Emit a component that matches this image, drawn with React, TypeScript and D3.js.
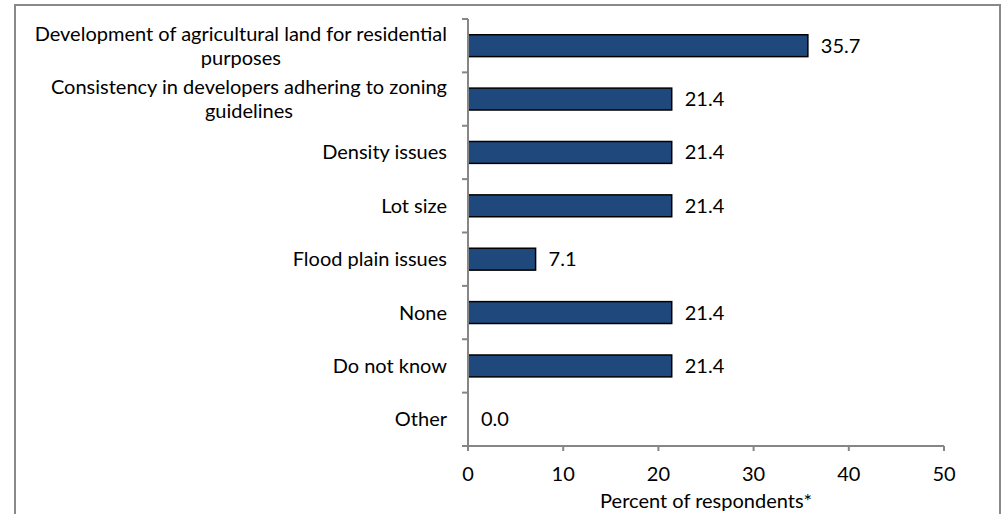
import React, { useEffect, useRef } from "react";
import * as d3 from "d3";

const categories: string[][] = [
  ["Development of agricultural land for residential", "purposes"],
  ["Consistency in developers adhering to zoning", "guidelines"],
  ["Density issues"],
  ["Lot size"],
  ["Flood plain issues"],
  ["None"],
  ["Do not know"],
  ["Other"],
];
const values: number[] = [35.7, 21.4, 21.4, 21.4, 7.1, 21.4, 21.4, 0.0];
const xTicks: number[] = [0, 10, 20, 30, 40, 50];
const xTitle = "Percent of respondents*";

const W = 1005;
const H = 514;
const FONT = "Lato, 'Open Sans', sans-serif";
const FS = 20;

export default function App() {
  const ref = useRef<SVGSVGElement>(null);

  useEffect(() => {
    const svg = d3.select(ref.current);
    svg.selectAll("*").remove();

    const left = 468, right = 944, top = 19, bottom = 446;
    const x = d3.scaleLinear().domain([0, 50]).range([left, right]);
    const idx = categories.map((_, i) => String(i));
    const y = d3.scaleBand().domain(idx).range([top, bottom]).paddingInner(0.59).paddingOuter(0.295);

    // frame
    svg.append("rect").attr("x", 15).attr("y", 5).attr("width", 985).attr("height", 520)
      .attr("fill", "white").attr("stroke", "#898989").attr("stroke-width", 2);

    // bars
    svg.selectAll("rect.bar").data(values).enter().append("rect")
      .attr("class", "bar")
      .attr("x", x(0))
      .attr("y", (_, i) => y(String(i))!)
      .attr("width", d => x(d) - x(0))
      .attr("height", y.bandwidth())
      .attr("fill", "#1F497D")
      .attr("stroke", d => (d > 0 ? "#000" : "none"))
      .attr("stroke-width", 1.5);

    // value labels
    svg.selectAll("text.val").data(values).enter().append("text")
      .attr("x", d => x(d) + 13)
      .attr("y", (_, i) => y(String(i))! + y.bandwidth() / 2)
      .attr("dy", "0.35em")
      .attr("font-family", FONT).attr("font-size", FS).attr("fill", "#000")
      .text(d => d.toFixed(1));

    // y axis
    const axColor = "#868686";
    svg.append("line").attr("x1", left).attr("x2", left).attr("y1", top).attr("y2", bottom)
      .attr("stroke", axColor).attr("stroke-width", 2);
    const bandStep = (bottom - top) / categories.length;
    d3.range(categories.length + 1).forEach(i => {
      const yy = top + i * bandStep;
      svg.append("line").attr("x1", left - 6).attr("x2", left).attr("y1", yy).attr("y2", yy)
        .attr("stroke", axColor).attr("stroke-width", 2);
    });

    // category labels
    categories.forEach((lines, i) => {
      const cy = y(String(i))! + y.bandwidth() / 2;
      const t = svg.append("text").attr("font-family", FONT).attr("font-size", FS)
        .attr("fill", "#000").attr("text-anchor", lines.length > 1 ? "middle" : "end");
      const lh = 24;
      lines.forEach((ln, j) => {
        const yy = cy + (j - (lines.length - 1) / 2) * lh;
        t.append("tspan").attr("x", 447).attr("y", yy).attr("dy", "0.35em").text(ln);
      });
      if (lines.length > 1) {
        const spans = t.selectAll("tspan").nodes() as SVGTSpanElement[];
        const w0 = spans[0].getComputedTextLength();
        const cx = 447 - w0 / 2;
        spans.forEach(s => s.setAttribute("x", String(cx)));
      }
    });

    // x axis
    svg.append("line").attr("x1", left).attr("x2", right).attr("y1", bottom).attr("y2", bottom)
      .attr("stroke", axColor).attr("stroke-width", 2);
    xTicks.forEach(v => {
      svg.append("line").attr("x1", x(v)).attr("x2", x(v)).attr("y1", bottom).attr("y2", bottom + 5)
        .attr("stroke", axColor).attr("stroke-width", 2);
      svg.append("text").attr("x", x(v)).attr("y", 474).attr("dy", "0.35em")
        .attr("text-anchor", "middle").attr("font-family", FONT).attr("font-size", FS).attr("fill", "#000")
        .text(String(v));
    });
    svg.append("text").attr("x", (left + right) / 2).attr("y", 501).attr("dy", "0.35em")
      .attr("text-anchor", "middle").attr("font-family", FONT).attr("font-size", FS).attr("fill", "#000")
      .text(xTitle);
  }, []);

  return (
    <div style={{ position: "absolute", left: 0, top: 0 }}>
      <svg ref={ref} width={W} height={H} style={{ display: "block" }} />
    </div>
  );
}
